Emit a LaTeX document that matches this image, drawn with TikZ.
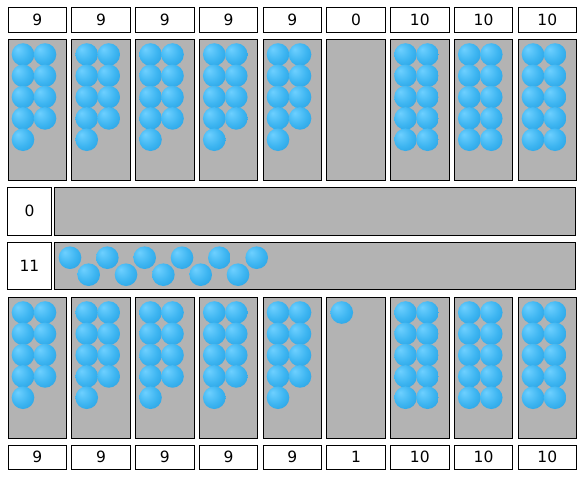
\documentclass[tikz,border=0pt]{standalone}
\usepackage{fontspec}
\setmainfont{DejaVu Sans}
\usetikzlibrary{positioning}
\definecolor{trayfill}{HTML}{B3B3B3}
\definecolor{beadhi}{HTML}{6ED0FF}
\definecolor{beadmid}{HTML}{3DB5F1}
\definecolor{beadlo}{HTML}{1E98DC}
\pgfdeclareradialshading{bead}{\pgfpoint{-12bp}{12bp}}{color(0bp)=(beadhi);color(22bp)=(beadmid);color(46bp)=(beadlo);color(60bp)=(beadlo)}

\begin{document}
\begin{tikzpicture}[x=1pt,y=-1pt,line width=1pt,every node/.style={font=\fontsize{15.5}{17}\selectfont,inner sep=0pt,outer sep=0pt},count/.style={draw,fill=white,anchor=north west,minimum width=58.5pt,minimum height=25pt},tray/.style={draw,fill=trayfill,anchor=north west,minimum width=58.5pt,minimum height=141pt},side/.style={draw,fill=white,anchor=north west,minimum width=44.4pt},bar/.style={draw,fill=trayfill,anchor=north west,minimum width=520.7pt},bead/.style={circle,minimum size=22.6pt,draw=none,shading=bead}]
\useasboundingbox (0,0) rectangle (581,477);
% upper row: counts and trays
\foreach \n [count=\i, evaluate=\i as \x using {8+63.75*(\i-1)}] in {9,9,9,9,9,0,10,10,10}{
  \node[count] (top\i) at (\x,7) {\n};
  \node[tray] (up\i) at (\x,39.3) {};
  \ifnum\n>0
  \foreach \k [evaluate=\k as \c using {int(mod(\k-1,2))}, evaluate=\k as \r using {int((\k-1)/2)}] in {1,...,\n}
    \node[bead] (upb\i-\k) at ([shift={({15+22*\c},{15.2+21.3*\r})}]up\i.north west) {};
  \fi
}
% middle rows
\node[side,minimum height=48.3pt] (cnta) at (7.3,187) {0};
\node[bar,minimum height=48.3pt] (rowa) at (54.3,187) {};
\node[side,minimum height=46.7pt] (cntb) at (7.3,242.3) {11};
\node[bar,minimum height=46.7pt] (rowb) at (54.3,242.3) {};
\foreach \k [evaluate=\k as \y using {int(mod(\k-1,2))}] in {1,...,11}
  \node[bead] (rb\k) at ([shift={({15.7+18.67*(\k-1)},{15.4+17*\y})}]rowb.north west) {};
% lower row: trays and counts
\foreach \n [count=\i, evaluate=\i as \x using {8+63.75*(\i-1)}] in {9,9,9,9,9,1,10,10,10}{
  \node[tray] (low\i) at (\x,297.3) {};
  \node[count,minimum height=24pt] (bot\i) at (\x,445) {\n};
  \ifnum\n>0
  \foreach \k [evaluate=\k as \c using {int(mod(\k-1,2))}, evaluate=\k as \r using {int((\k-1)/2)}] in {1,...,\n}
    \node[bead] (lowb\i-\k) at ([shift={({15+22*\c},{15.2+21.3*\r})}]low\i.north west) {};
  \fi
}
\end{tikzpicture}
\end{document}
